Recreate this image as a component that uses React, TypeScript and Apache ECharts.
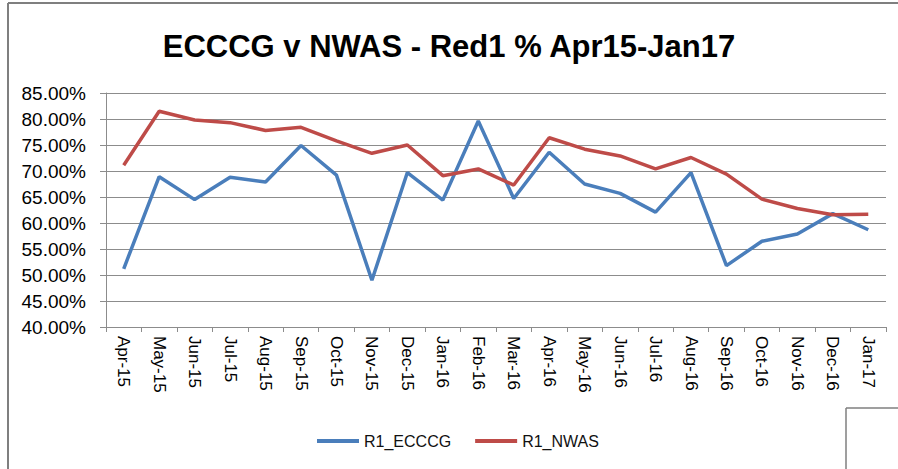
import React, { useEffect, useRef } from "react";
import * as echarts from "echarts";

const categories = [
  "Apr-15", "May-15", "Jun-15", "Jul-15", "Aug-15", "Sep-15", "Oct-15", "Nov-15",
  "Dec-15", "Jan-16", "Feb-16", "Mar-16", "Apr-16", "May-16", "Jun-16", "Jul-16",
  "Aug-16", "Sep-16", "Oct-16", "Nov-16", "Dec-16", "Jan-17",
];

const r1Ecccg = [
  51.2, 68.9, 64.5, 68.8, 67.9, 74.9, 69.2, 49.0, 69.7, 64.4, 79.6,
  64.7, 73.6, 67.5, 65.7, 62.1, 69.7, 51.8, 56.5, 57.9, 61.8, 58.7,
];

const r1Nwas = [
  71.1, 81.5, 79.8, 79.3, 77.8, 78.4, 75.8, 73.4, 75.0, 69.1, 70.4,
  67.3, 76.4, 74.2, 72.9, 70.4, 72.6, 69.4, 64.6, 62.8, 61.6, 61.7,
];

const yMin = 40;
const yMax = 85;
const yStep = 5;

const BLUE = "#4A7EBB";
const RED = "#BE4B48";
const FONT = "'Liberation Sans', Arial, sans-serif";

export default function App() {
  const ref = useRef<HTMLDivElement>(null);

  useEffect(() => {
    if (!ref.current) return;
    const chart = echarts.init(ref.current, undefined, { renderer: "svg" });
    chart.setOption({
      animation: false,
      backgroundColor: "#ffffff",
      title: {
        text: "ECCCG v NWAS - Red1 % Apr15-Jan17",
        left: "center",
        top: 26,
        textStyle: {
          fontFamily: FONT,
          fontWeight: "bold",
          fontSize: 31,
          color: "#000000",
        },
      },
      legend: {
        top: 428,
        left: 312,
        icon: "rect",
        itemWidth: 42,
        itemHeight: 4,
        itemGap: 24,
        textStyle: { fontFamily: FONT, fontSize: 16, color: "#111111" },
        data: ["R1_ECCCG", "R1_NWAS"],
      },
      grid: { left: 106, right: 12, top: 93, bottom: 142, containLabel: false },
      xAxis: {
        type: "category",
        data: categories,
        boundaryGap: true,
        axisLine: { show: true, lineStyle: { color: "#8c8c8c", width: 1 } },
        axisTick: { show: true, length: 5, lineStyle: { color: "#8c8c8c" } },
        axisLabel: {
          rotate: -90,
          interval: 0,
          margin: 9,
          fontFamily: FONT,
          fontSize: 17,
          color: "#000000",
        },
      },
      yAxis: {
        type: "value",
        min: yMin,
        max: yMax,
        interval: yStep,
        axisLine: { show: true, lineStyle: { color: "#8c8c8c", width: 1 } },
        axisTick: { show: true, length: 6, lineStyle: { color: "#8c8c8c" } },
        splitLine: { show: true, lineStyle: { color: "#8c8c8c", width: 1 } },
        axisLabel: {
          margin: 20,
          fontFamily: FONT,
          fontSize: 19,
          color: "#000000",
          formatter: (v: number) => v.toFixed(2) + "%",
        },
      },
      series: [
        {
          name: "R1_ECCCG",
          type: "line",
          data: r1Ecccg,
          showSymbol: false,
          symbol: "none",
          color: BLUE,
          lineStyle: { color: BLUE, width: 3.5 },
        },
        {
          name: "R1_NWAS",
          type: "line",
          data: r1Nwas,
          showSymbol: false,
          symbol: "none",
          color: RED,
          lineStyle: { color: RED, width: 3.5 },
        },
      ],
      graphic: [
        { type: "line", shape: { x1: 8, y1: 3, x2: 8, y2: 469 }, style: { stroke: "#7f7f7f", lineWidth: 2 } },
        { type: "line", shape: { x1: 8, y1: 3, x2: 898, y2: 3 }, style: { stroke: "#7f7f7f", lineWidth: 2 } },
        { type: "line", shape: { x1: 846, y1: 408, x2: 898, y2: 408 }, style: { stroke: "#7f7f7f", lineWidth: 1.5 } },
        { type: "line", shape: { x1: 846, y1: 408, x2: 846, y2: 469 }, style: { stroke: "#7f7f7f", lineWidth: 1.5 } },
      ],
    });
    return () => chart.dispose();
  }, []);

  return (
    <div
      ref={ref}
      style={{ position: "fixed", left: 0, top: 0, width: 898, height: 469 }}
    />
  );
}
